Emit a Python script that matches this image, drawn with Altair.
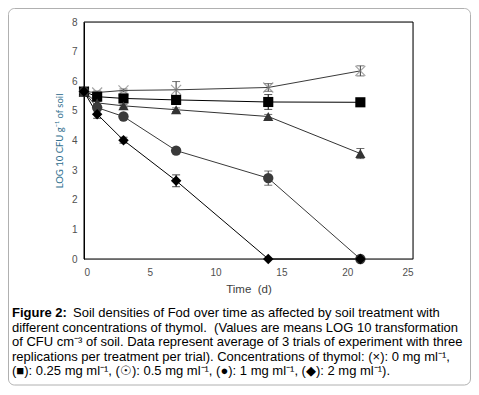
import altair as alt
import pandas as pd

times = [0, 1, 3, 7, 14, 21]
series = ["0 mg ml-1", "0.25 mg ml-1", "0.5 mg ml-1", "1 mg ml-1", "2 mg ml-1"]
v0 = [5.65, 5.62, 5.69, 5.71, 5.79, 6.35]
e0 = [0.05, 0.05, 0.05, 0.28, 0.13, 0.17]
v025 = [5.65, 5.48, 5.42, 5.37, 5.30, 5.29]
e025 = [0.05, 0.08, 0.05, 0.05, 0.25, 0.05]
v05 = [5.65, 5.27, 5.17, 5.04, 4.81, 3.56]
e05 = [0.05, 0.05, 0.05, 0.06, 0.07, 0.17]
v1 = [5.65, 5.11, 4.81, 3.66, 2.73, 0.0]
e1 = [0.05, 0.08, 0.06, 0.06, 0.24, 0.0]
v2 = [5.65, 4.89, 4.01, 2.64, 0.0, 0.0]
e2 = [0.05, 0.14, 0.10, 0.20, 0.0, 0.0]

values = [v0, v025, v05, v1, v2]
errors = [e0, e025, e05, e1, e2]
shapes = ["M-1,-1L1,1M-1,1L1,-1", "square", "triangle-up", "circle", "diamond"]
marker_colors = ["#808080", "#000000", "#000000", "#262626", "#000000"]
line_colors = ["#3a3a3a", "#000000", "#333333", "#3a3a3a", "#000000"]
marker_sizes = [100, 110, 110, 125, 70]

caption = [
    "Soil densities of Fod over time as affected by soil treatment with",
    "different concentrations of thymol. \u00a0(Values are means LOG 10 transformation",
    "of CFU cm\u207b\u00b3 of soil. Data represent average of 3 trials of experiment with three",
    "replications per treatment per trial). Concentrations of thymol: (\u00d7): 0 mg ml\u207b\u00b9,",
    "(\u25a0): 0.25 mg ml\u207b\u00b9, (\u2609): 0.5 mg ml\u207b\u00b9, (\u25cf): 1 mg ml\u207b\u00b9, (\u25c6): 2 mg ml\u207b\u00b9).",
]

rows = []
for s, vals, errs in zip(series, values, errors):
    for t, v, e in zip(times, vals, errs):
        rows.append({"series": s, "t": t, "v": v, "lo": v - e, "hi": v + e})
df = pd.DataFrame(rows)

W, H = 329, 237

xaxis = alt.Axis(values=[0, 5, 10, 15, 20, 25], grid=False, ticks=False,
                 domainColor="#d0d0d0", labelColor="#505050",
                 labelPadding=8, title="Time \u00a0(d)", titleColor="#404040",
                 titleFontSize=11.5, titleFontWeight="normal", titlePadding=6)
yaxis = alt.Axis(values=list(range(9)), grid=False, ticks=False, domainColor="#000000",
                 labelColor="#505050", labelPadding=7, labelOverlap=False,
                 title="LOG 10 CFU g\u207b\u00b9 of soil",
                 titleColor="#31708f", titleFont="Lato",
                 titleFontSize=9.5, titleFontWeight="normal", titlePadding=7)
xscale = alt.Scale(domain=[0, 25])
yscale = alt.Scale(domain=[0, 8])


def X(f="t:Q"):
    return alt.X(f, scale=xscale, axis=xaxis)


def Y(f):
    return alt.Y(f, scale=yscale, axis=yaxis)


colscale = alt.Scale(domain=series, range=line_colors)
mcolscale = alt.Scale(domain=series, range=marker_colors)
shapescale = alt.Scale(domain=series, range=shapes)
sizescale = alt.Scale(domain=series, range=marker_sizes)

base = alt.Chart(df)
one = pd.DataFrame({"k": [0]})

frame = alt.Chart(one).mark_rect(fill=None, stroke="#000000", strokeWidth=1).encode(
    x=alt.value(0), x2=alt.value(W), y=alt.value(0), y2=alt.value(H))

lines = base.mark_line(strokeWidth=1).encode(
    x=X(), y=Y("v:Q"),
    color=alt.Color("series:N", scale=colscale, legend=None),
    detail="series:N",
)

err_df = df[df["hi"] - df["lo"] > 0.001]
err_base = alt.Chart(err_df)
rules = err_base.mark_rule(strokeWidth=1).encode(
    x=X(), y=Y("lo:Q"), y2="hi:Q",
    color=alt.Color("series:N", scale=mcolscale, legend=None),
)
cap_lo = err_base.mark_tick(orient="horizontal", size=8, thickness=1).encode(
    x=X(), y=Y("lo:Q"),
    color=alt.Color("series:N", scale=mcolscale, legend=None),
)
cap_hi = err_base.mark_tick(orient="horizontal", size=8, thickness=1).encode(
    x=X(), y=Y("hi:Q"),
    color=alt.Color("series:N", scale=mcolscale, legend=None),
)

cross_pts = base.transform_filter(alt.datum.series == series[0]).mark_point(
    filled=False, strokeWidth=1.2, shape=shapes[0], size=marker_sizes[0], color=marker_colors[0]
).encode(x=X(), y=Y("v:Q"))

other_pts = base.transform_filter(alt.datum.series != series[0]).mark_point(
    filled=True, opacity=1
).encode(
    x=X(), y=Y("v:Q"),
    color=alt.Color("series:N", scale=mcolscale, legend=None),
    shape=alt.Shape("series:N", scale=shapescale, legend=None),
    size=alt.Size("series:N", scale=sizescale, legend=None),
    order=alt.Order("series:N"),
)

border = alt.Chart(one).mark_rect(
    fill=None, stroke="#b0b0b0", strokeWidth=1, cornerRadius=6
).encode(x=alt.value(-75.5), x2=alt.value(386.5), y=alt.value(-13.5), y2=alt.value(363))

cap_font = "Liberation Sans"
cap_size = 13
cap_layers = [
    alt.Chart(one).mark_text(align="left", baseline="alphabetic", font=cap_font,
                             fontSize=cap_size, fontWeight="bold", color="#000000").encode(
        x=alt.value(-72), y=alt.value(295), text=alt.value("Figure 2:"))
]
ys = [295, 309.5, 324, 338.5, 353]
xs = [-11, -72, -72, -72, -72]
for line, yy, xx in zip(caption, ys, xs):
    cap_layers.append(
        alt.Chart(one).mark_text(align="left", baseline="alphabetic", font=cap_font,
                                 fontSize=cap_size, color="#000000").encode(
            x=alt.value(xx), y=alt.value(yy), text=alt.value(line))
    )

chart = alt.layer(
    border, frame, lines, rules, cap_lo, cap_hi, cross_pts, other_pts, *cap_layers
).properties(
    width=W, height=H,
    autosize=alt.AutoSizeParams(type="none"),
    padding={"left": 76, "top": 14, "right": 58, "bottom": 128},
).configure_view(
    stroke=None
).configure_axis(
    labelFont="Lato", labelFontSize=10.5, titleFont="Lato"
).configure(background="white")

chart.save("out.html", embed_options={"renderer": "svg", "actions": False})
